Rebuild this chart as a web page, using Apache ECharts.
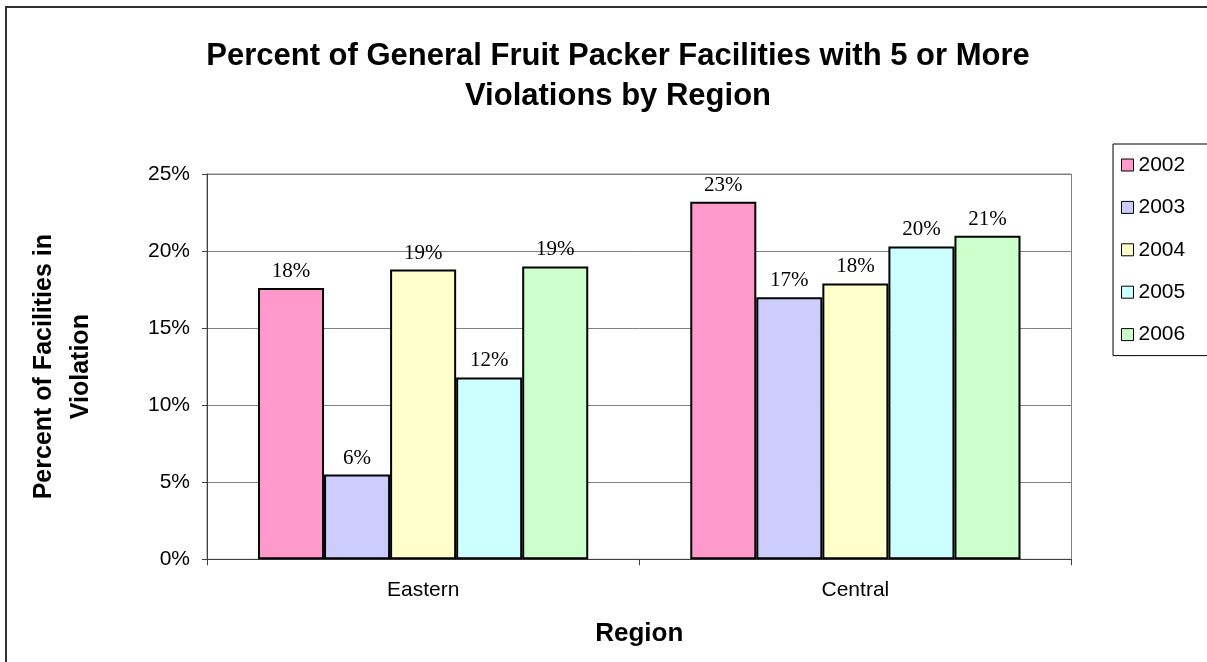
<!DOCTYPE html>
<html>
<head>
<meta charset="utf-8">
<script src="https://cdn.jsdelivr.net/npm/echarts@6/dist/echarts.min.js"></script>
<style>
  html, body { margin: 0; padding: 0; background: #fff; }
  #chart { width: 1207px; height: 662px; }
</style>
</head>
<body>
<div id="chart"></div>
<script>
// Regions on the category axis
const regions = ['Eastern', 'Central'];

// Years shown as series, with their fill colours
const years = ['2002', '2003', '2004', '2005', '2006'];
const yearColors = ['#FF99CC', '#CCCCFF', '#FFFFCC', '#CCFFFF', '#CCFFCC'];

// Percent of facilities with 5+ violations, per region (Eastern, Central)
const pct2002 = [17.6, 23.2];
const pct2003 = [5.5, 17.0];
const pct2004 = [18.8, 17.9];
const pct2005 = [11.8, 20.3];
const pct2006 = [19.0, 21.0];
const seriesValues = [pct2002, pct2003, pct2004, pct2005, pct2006];

// Value-axis ticks (percent)
const yMin = 0, yMax = 25, yStep = 5;

const chart = echarts.init(document.getElementById('chart'));

const sansFont = '"Liberation Sans", Arial, sans-serif';
const serifFont = '"Liberation Serif", "Times New Roman", serif';

const series = years.map((y, i) => ({
  name: y,
  type: 'bar',
  data: seriesValues[i],
  barGap: '0%',
  barCategoryGap: '23.6%',
  itemStyle: { color: yearColors[i], borderColor: '#000', borderWidth: 2 },
  label: {
    show: true,
    position: 'top',
    distance: 6,
    color: '#000',
    fontFamily: serifFont,
    fontSize: 21,
    formatter: p => Math.round(p.value) + '%'
  }
}));

chart.setOption({
  animation: false,
  backgroundColor: '#fff',
  title: {
    text: 'Percent of General Fruit Packer Facilities with 5 or More\nViolations by Region',
    left: 613,
    textAlign: 'center',
    top: 31,
    textStyle: {
      fontFamily: sansFont,
      fontWeight: 'bold',
      fontSize: 31,
      lineHeight: 40,
      color: '#000'
    }
  },
  legend: {
    orient: 'vertical',
    left: 1113,
    top: 144,
    padding: [10, 30, 10, 8],
    itemWidth: 12,
    itemHeight: 12,
    itemGap: 20.4,
    icon: 'rect',
    borderColor: '#000',
    borderWidth: 1,
    backgroundColor: '#fff',
    textStyle: { fontFamily: sansFont, fontSize: 21, lineHeight: 22, color: '#000' },
    itemStyle: { borderColor: '#000', borderWidth: 1 },
    data: years
  },
  grid: {
    left: 207,
    right: 135.5,
    top: 174,
    bottom: 102.7,
    show: true,
    borderColor: '#808080',
    borderWidth: 1,
    containLabel: false
  },
  xAxis: {
    type: 'category',
    data: regions,
    name: 'Region',
    nameLocation: 'middle',
    nameGap: 62,
    nameTextStyle: { fontFamily: sansFont, fontWeight: 'bold', fontSize: 26, color: '#000', verticalAlign: 'top' },
    axisLine: { lineStyle: { color: '#404040', width: 1 } },
    axisTick: { show: true, length: 6, lineStyle: { color: '#404040' } },
    axisLabel: { fontFamily: sansFont, fontSize: 21, color: '#000', margin: 20 }
  },
  yAxis: {
    type: 'value',
    min: yMin,
    max: yMax,
    interval: yStep,
    name: 'Percent of Facilities in\nViolation',
    nameLocation: 'middle',
    nameRotate: 90,
    nameGap: 107,
    nameTextStyle: { fontFamily: sansFont, fontWeight: 'bold', fontSize: 25, lineHeight: 37, color: '#000' },
    axisLine: { show: true, lineStyle: { color: '#404040', width: 1 } },
    axisTick: { show: true, length: 5, lineStyle: { color: '#404040' } },
    axisLabel: { fontFamily: sansFont, fontSize: 21, color: '#000', margin: 17, formatter: v => v + '%' },
    splitLine: { show: true, lineStyle: { color: '#808080', width: 1 } }
  },
  graphic: [{
    type: 'rect',
    shape: { x: 6, y: 7, width: 1240, height: 720 },
    style: { fill: 'none', stroke: '#333', lineWidth: 2 },
    silent: true,
    z: -10
  }],
  series: series
});
</script>
</body>
</html>
